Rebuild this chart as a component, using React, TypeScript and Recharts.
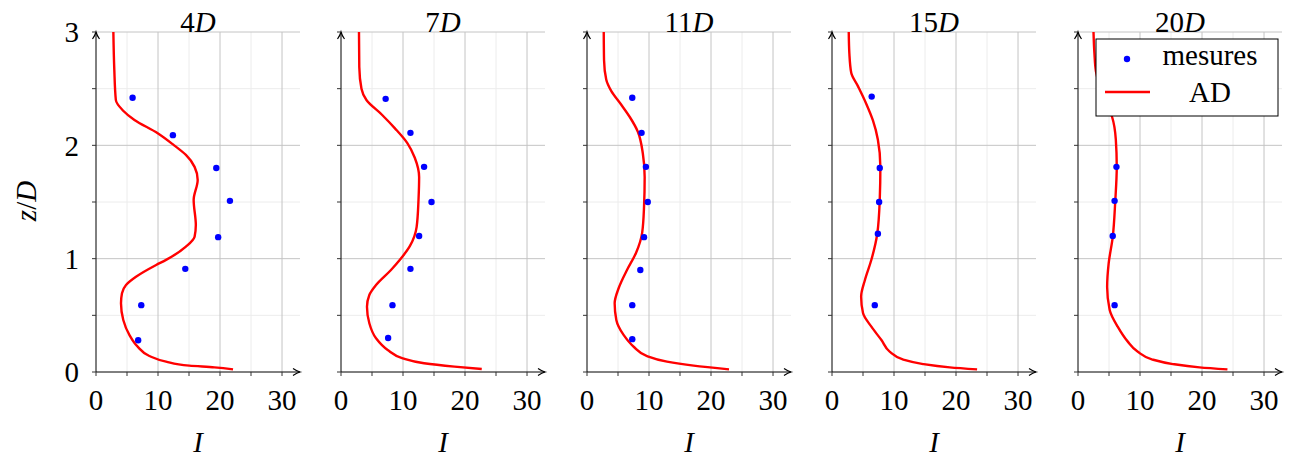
import React from 'react';
import { ComposedChart, Line, Scatter, XAxis, YAxis, CartesianGrid } from 'recharts';

// panel titles (distance downstream)
const titles = ['4', '7', '11', '15', '20'];

// measured points: [z/D, I]
const mes4D = [[2.42, 5.9], [2.09, 12.4], [1.8, 19.4], [1.51, 21.6], [1.19, 19.7], [0.91, 14.4], [0.59, 7.3], [0.28, 6.8]];
const mes7D = [[2.41, 7.2], [2.11, 11.2], [1.81, 13.4], [1.5, 14.6], [1.2, 12.6], [0.91, 11.2], [0.59, 8.3], [0.3, 7.6]];
const mes11D = [[2.42, 7.3], [2.11, 8.8], [1.81, 9.5], [1.5, 9.8], [1.19, 9.2], [0.9, 8.6], [0.59, 7.3], [0.29, 7.3]];
const mes15D = [[2.43, 6.4], [1.8, 7.7], [1.5, 7.6], [1.22, 7.4], [0.59, 6.9]];
const mes20D = [[1.81, 6.2], [1.51, 5.9], [1.2, 5.6], [0.59, 5.9]];

// AD model profile: [z/D, I]
const ad4D = [
  [3.0, 2.8], [2.67, 2.95], [2.4, 3.2], [2.31, 4.3], [2.224, 6.2], [2.107, 9.95], [2.0, 12.6], [1.915, 14.5],
  [1.81, 15.9], [1.695, 16.4], [1.518, 15.75], [1.297, 16.1], [1.194, 15.9], [1.106, 14.5], [0.989, 11.3],
  [0.944, 9.7], [0.84, 6.45], [0.768, 4.84], [0.694, 4.19], [0.606, 4.03], [0.459, 4.4], [0.327, 5.38],
  [0.223, 6.72], [0.141, 8.6], [0.091, 11.3], [0.056, 15.05], [0.041, 19.1], [0.023, 22.1],
];
const ad7D = [
  [3.0, 2.9], [2.69, 2.95], [2.5, 3.3], [2.4, 4.1], [2.27, 6.6], [2.15, 8.7], [2.02, 10.7], [1.89, 11.9],
  [1.72, 12.6], [1.52, 12.5], [1.28, 12.2], [1.11, 11.1], [0.99, 9.5], [0.9, 8.06], [0.768, 5.65], [0.68, 4.57],
  [0.576, 4.19], [0.43, 4.57], [0.297, 5.65], [0.194, 7.53], [0.121, 9.95], [0.077, 13.4], [0.047, 18.3],
  [0.026, 22.7],
];
const ad11D = [
  [3.0, 2.7], [2.75, 2.75], [2.58, 3.1], [2.48, 3.9], [2.36, 5.5], [2.25, 6.9], [2.12, 8.2], [1.93, 9.0],
  [1.72, 9.3], [1.46, 9.2], [1.23, 8.9], [1.05, 7.9], [0.9, 6.45], [0.739, 5.1], [0.606, 4.46], [0.459, 4.73],
  [0.327, 5.9], [0.223, 7.53], [0.141, 9.68], [0.091, 12.9], [0.056, 17.2], [0.023, 22.9],
];
const ad15D = [
  [3.0, 2.7], [2.81, 2.8], [2.64, 3.1], [2.52, 4.2], [2.37, 5.5], [2.22, 6.6], [2.05, 7.4], [1.81, 7.8],
  [1.52, 7.7], [1.22, 7.3], [0.99, 6.35], [0.81, 5.3], [0.665, 4.7], [0.52, 5.0], [0.4, 6.35], [0.28, 8.0],
  [0.18, 9.3], [0.11, 11.5], [0.07, 14.7], [0.041, 19.0], [0.023, 23.4],
];
const ad20D = [
  [3.0, 2.5], [2.81, 2.65], [2.65, 2.9], [2.5, 3.6], [2.38, 4.5], [2.25, 5.5], [2.05, 6.1], [1.81, 6.25],
  [1.5, 6.0], [1.19, 5.6], [0.96, 4.95], [0.75, 4.7], [0.55, 5.1], [0.4, 6.4], [0.27, 8.0], [0.18, 9.6],
  [0.11, 12.0], [0.07, 15.3], [0.041, 19.6], [0.023, 24.1],
];

const mesSets = [mes4D, mes7D, mes11D, mes15D, mes20D];
const adSets = [ad4D, ad7D, ad11D, ad15D, ad20D];

const xTicks = [0, 5, 10, 15, 20, 25, 30];
const yTicks = [0, 0.5, 1, 1.5, 2, 2.5, 3];
const X_MAX = 32.9;

const FONT = '"Liberation Serif", "DejaVu Serif", serif';
const FS = 29;
const panelX = [96, 341, 587, 832, 1078];
const Y_AXIS_W = 56;

const toRows = (pairs: number[][]) => pairs.map(([z, I]) => ({ z, I }));

const BlueDot = (p: any) => <circle cx={p.cx} cy={p.cy} r={3.2} fill="#0000ff" />;

function Panel({ idx }: { idx: number }) {
  const tickStyle = { fontFamily: FONT, fontSize: FS, fill: '#000' };
  return (
    <div style={{ position: 'absolute', left: panelX[idx] - Y_AXIS_W, top: 0 }}>
      <ComposedChart
        layout="vertical"
        width={Y_AXIS_W + 204 + 6}
        height={459}
        margin={{ top: 32, right: 6, bottom: 0, left: 0 }}
      >
        <CartesianGrid horizontalValues={[0.5, 1.5, 2.5]} verticalValues={[5, 15, 25]} stroke="#ececec" />
        <CartesianGrid horizontalValues={[1, 2, 3]} verticalValues={[10, 20, 30]} stroke="#c4c4c4" />
        <XAxis
          type="number"
          dataKey="I"
          domain={[0, X_MAX]}
          ticks={xTicks}
          allowDataOverflow
          height={87}
          tickSize={4}
          tickMargin={13}
          tick={tickStyle}
          tickFormatter={(v: number) => (v % 10 === 0 ? String(v) : '')}
          tickLine={{ stroke: '#333' }}
          axisLine={{ stroke: '#000', strokeWidth: 1, markerEnd: 'url(#axisArrow)' }}
        />
        <YAxis
          type="number"
          dataKey="z"
          domain={[0, 3]}
          ticks={yTicks}
          reversed
          allowDataOverflow
          width={Y_AXIS_W}
          tickSize={4}
          tickMargin={13}
          tick={tickStyle}
          tickFormatter={(v: number) => (idx === 0 && Number.isInteger(v) ? String(v) : '')}
          tickLine={{ stroke: '#333' }}
          axisLine={{ stroke: '#000', strokeWidth: 1, markerStart: 'url(#axisArrow)' }}
        />
        <Line
          data={toRows(adSets[idx])}
          dataKey="I"
          type="monotone"
          stroke="#ff0000"
          strokeWidth={2.4}
          dot={false}
          activeDot={false}
          isAnimationActive={false}
        />
        <Scatter data={toRows(mesSets[idx])} dataKey="I" shape={BlueDot} isAnimationActive={false} />
      </ComposedChart>
    </div>
  );
}

export default function App() {
  return (
    <div style={{ position: 'absolute', left: 0, top: 0, width: 1297, height: 459, background: '#fff' }}>
      <svg width={0} height={0} style={{ position: 'absolute' }}>
        <defs>
          <marker id="axisArrow" markerUnits="userSpaceOnUse" markerWidth={12} markerHeight={10} refX={8} refY={5} orient="auto-start-reverse">
            <path d="M1,1.5 Q5,4.2 8,5 Q5,5.8 1,8.5" fill="none" stroke="#000" strokeWidth={1.2} />
          </marker>
        </defs>
      </svg>
      {titles.map((_, i) => (
        <Panel key={i} idx={i} />
      ))}
      <svg width={1297} height={459} style={{ position: 'absolute', left: 0, top: 0, pointerEvents: 'none' }}>
        <g fontFamily={FONT} fontSize={FS} fill="#000">
          {titles.map((t, i) => (
            <text key={`t${i}`} x={panelX[i] + 102} y={32} textAnchor="middle">
              {t}
              <tspan fontStyle="italic">D</tspan>
            </text>
          ))}
          {titles.map((_, i) => (
            <text key={`l${i}`} x={panelX[i] + 102} y={452} textAnchor="middle" fontStyle="italic">
              I
            </text>
          ))}
          <text transform="translate(36,201) rotate(-90)" textAnchor="middle">
            <tspan fontStyle="italic">z</tspan>/<tspan fontStyle="italic">D</tspan>
          </text>
        </g>
        <g>
          <rect x={1096} y={39} width={182} height={77} fill="#fff" stroke="#000" strokeWidth={1} />
          <circle cx={1127} cy={59} r={3.2} fill="#0000ff" />
          <line x1={1105} y1={92} x2={1150} y2={92} stroke="#ff0000" strokeWidth={2.4} />
          <text x={1210} y={65} textAnchor="middle" fontFamily={FONT} fontSize={FS}>mesures</text>
          <text x={1210} y={102} textAnchor="middle" fontFamily={FONT} fontSize={FS}>AD</text>
        </g>
      </svg>
    </div>
  );
}
